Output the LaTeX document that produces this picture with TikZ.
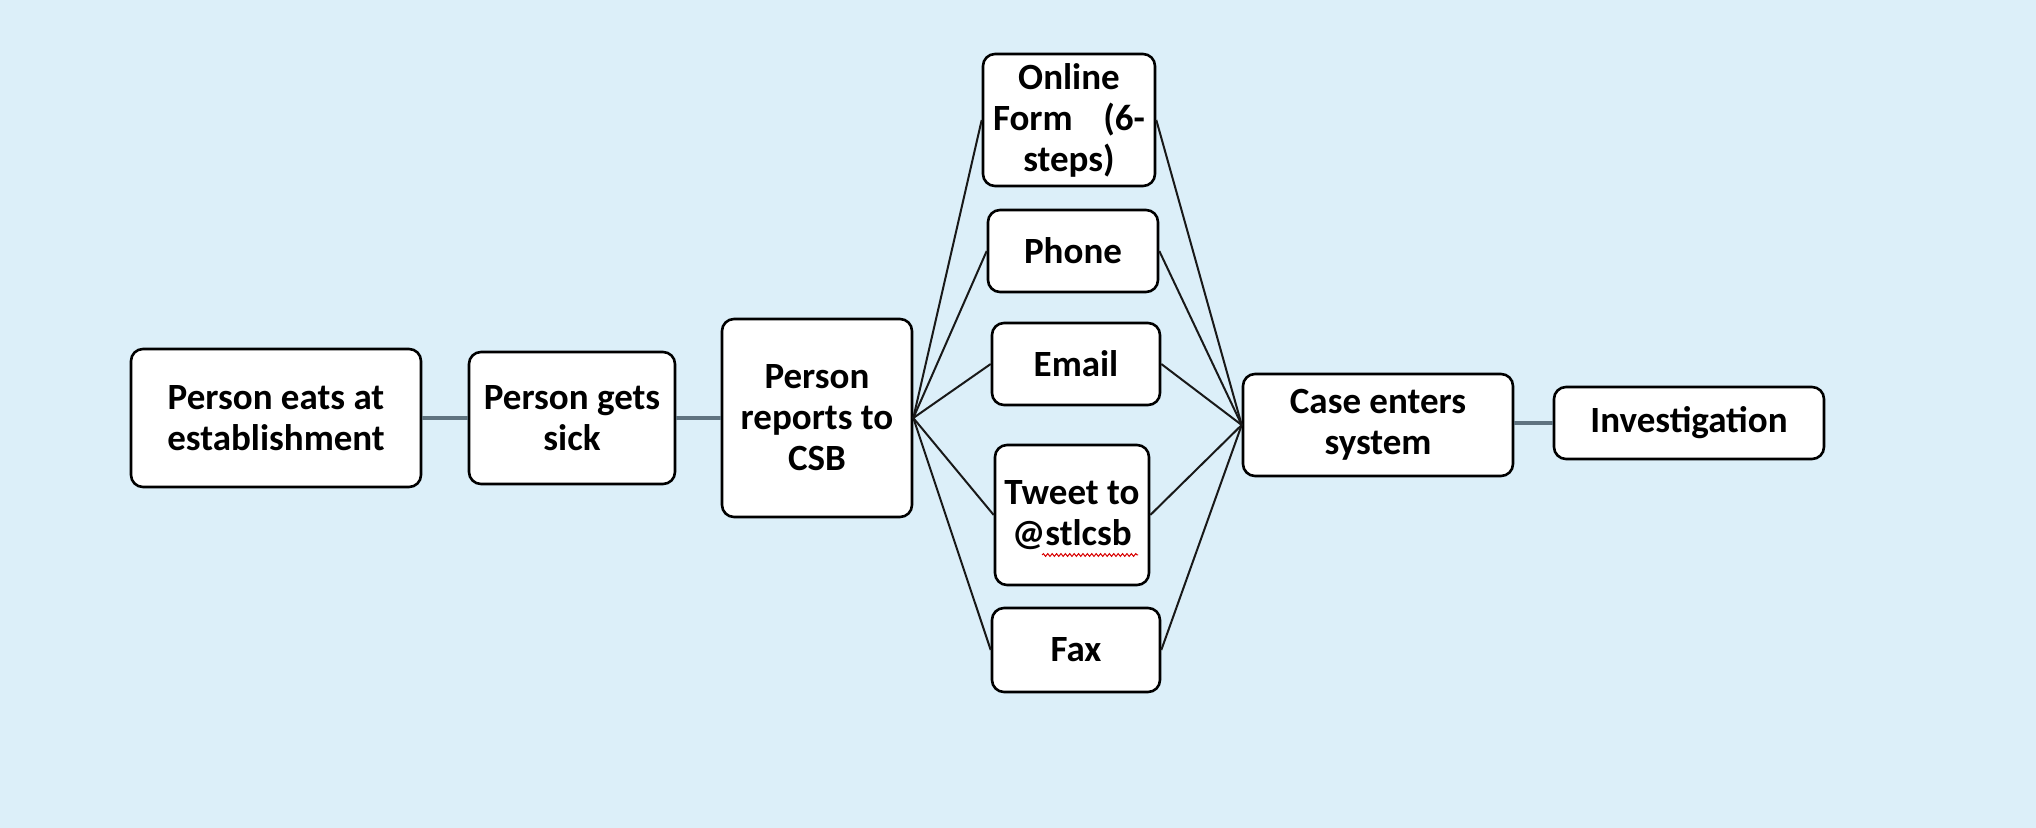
\documentclass[tikz,border=0pt]{standalone}
\usepackage{fontspec}
\setmainfont{Carlito}
\usetikzlibrary{decorations.pathmorphing}
\definecolor{bgblue}{RGB}{220,239,249}
\definecolor{linkgray}{RGB}{95,115,128}

\begin{document}
\begin{tikzpicture}[x=0.5pt, y=-0.5pt,
    every node/.style={font=\fontsize{18.5}{20.5}\selectfont\bfseries},
    stepbox/.style={draw=black, fill=white, line width=1.3pt, rounded corners=6pt, align=center, inner sep=0pt},
    link/.style={linkgray, line width=1.6pt},
    fan/.style={black!90, line width=1pt},
    spell/.style={red!85!black, line width=0.5pt, decorate, decoration={snake, amplitude=0.7pt, segment length=2.2pt}}]

    % --- Background ---
    \fill[bgblue] (0,0) rectangle (2036,828);

    % --- Main chain ---
    \node[stepbox, minimum width=145pt, minimum height=69pt] (eats) at (276,418) {Person eats at\\establishment};
    \node[stepbox, minimum width=103pt, minimum height=66pt] (sick) at (572,418) {Person gets\\sick};
    \node[stepbox, minimum width=95pt, minimum height=99pt] (reports) at (817,418) {Person\\reports to\\CSB};

    % --- Reporting channels ---
    \node[stepbox, minimum width=86pt, minimum height=66pt] (online) at (1069,120)
        {Online\\\makebox[76pt]{Form\hfill(6-}\\steps)};
    \node[stepbox, minimum width=85pt, minimum height=41pt] (phone) at (1073,251) {Phone};
    \node[stepbox, minimum width=84pt, minimum height=41pt] (email) at (1076,364) {Email};
    \node[stepbox, minimum width=77pt, minimum height=70pt] (tweet) at (1072,515) {Tweet to\\@stlcsb};
    \node[stepbox, minimum width=84pt, minimum height=42pt] (fax) at (1076,650) {Fax};

    % --- End of chain ---
    \node[stepbox, minimum width=135pt, minimum height=51pt] (case) at (1378,425) {Case enters\\system};
    \node[stepbox, minimum width=135pt, minimum height=36pt] (invest) at (1689,423) {Investigation};

    % --- Connectors ---
    \draw[link] (eats) -- (sick);
    \draw[link] (sick) -- (reports);
    \draw[link] (invest.west -| case.east) -- (invest.west);
    \foreach \m in {online,phone,email,tweet,fax} {
        \draw[fan] (reports.east) -- (\m.west);
        \draw[fan] (\m.east) -- (case.west);
    }

    % spell-check mark under the handle
    \draw[spell] ([shift={(-30,40)}]tweet.center) -- ([shift={(66,40)}]tweet.center);
\end{tikzpicture}
\end{document}
